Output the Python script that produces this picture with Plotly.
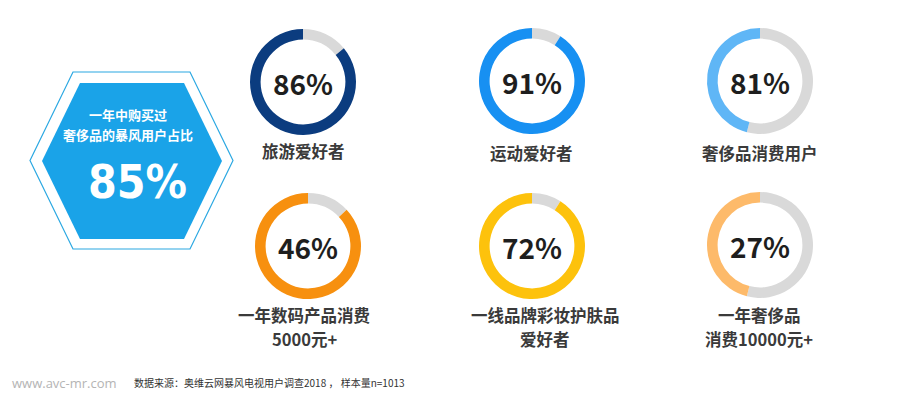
import plotly.graph_objects as go

W, H = 910, 398

# ---- data ----
categories = [["旅游爱好者"], ["运动爱好者"], ["奢侈品消费用户"],
              ["一年数码产品消费", "5000元+"], ["一线品牌彩妆护肤品", "爱好者"], ["一年奢侈品", "消费10000元+"]]
pct_labels = ["86%", "91%", "81%", "46%", "72%", "27%"]
arc_share = [86, 91, 46, 87, 91, 46]          # coloured arc share as drawn in the picture
ring_colors = ["#0B3C7F", "#1790F2", "#5FB6F6", "#F7900F", "#FDC20C", "#FDBA6A"]
headline_title = ["一年中购买过", "奢侈品的暴风用户占比"]
headline_value = "85%"
source_note = "数据来源：奥维云网暴风电视用户调查2018 ， 样本量n=1013"
site = "www.avc-mr.com"

# ---- layout helpers (pixel -> paper) ----
def px(x):
    return x / W

def py(y):
    return 1 - y / H

centers = [(303, 82), (532, 81), (760, 81), (308, 246), (532, 246), (760, 245)]
R = 53
label_pos = [(303, 151), (531, 153), (760, 153), (304, 315), (545, 315), (759, 315)]
LINE = 24

CJK = "Noto Sans CJK SC, Microsoft YaHei, sans-serif"

fig = go.Figure()

for i, v in enumerate(arc_share):
    cx, cy = centers[i]
    fig.add_trace(go.Pie(
        values=[100 - v, v],
        marker=dict(colors=["#D9D9D9", ring_colors[i]], line=dict(width=0)),
        hole=0.8,
        sort=False,
        direction="counterclockwise",
        rotation=0,
        textinfo="none",
        hoverinfo="skip",
        showlegend=False,
        domain=dict(x=[px(cx - R), px(cx + R)], y=[py(cy + R), py(cy - R)]),
    ))

annotations = []
for i, t in enumerate(pct_labels):
    cx, cy = centers[i]
    annotations.append(dict(
        x=px(cx), y=py(cy + 1), xref="paper", yref="paper", text=f"<b>{t}</b>",
        showarrow=False, xanchor="center", yanchor="middle",
        font=dict(family=CJK, size=28, color="#1E1E1E")))
for i, lines in enumerate(categories):
    lx, ly = label_pos[i]
    for j, t in enumerate(lines):
        annotations.append(dict(
            x=px(lx), y=py(ly + j * LINE), xref="paper", yref="paper", text=f"<b>{t}</b>",
            showarrow=False, xanchor="center", yanchor="middle", borderpad=0,
            font=dict(family=CJK, size=16.5, color="#3A3A3A")))

# hexagon badge
for j, t in enumerate(headline_title):
    annotations.append(dict(
        x=px(128), y=py(115 + j * 19), xref="paper", yref="paper", text=f"<b>{t}</b>",
        showarrow=False, xanchor="center", yanchor="middle", borderpad=0,
        font=dict(family=CJK, size=13, color="white")))
annotations.append(dict(
    x=px(137), y=py(182), xref="paper", yref="paper", text=f"<b>{headline_value}</b>",
    showarrow=False, xanchor="center", yanchor="middle",
    font=dict(family="Liberation Sans Narrow, DejaVu Sans Condensed, Arial Narrow, sans-serif",
              size=46, color="white")))

annotations.append(dict(
    x=px(10), y=py(383), xref="paper", yref="paper", text=site,
    showarrow=False, xanchor="left", yanchor="middle",
    font=dict(family="Open Sans, sans-serif", size=13, color="#B4B4B4")))
annotations.append(dict(
    x=px(132), y=py(382), xref="paper", yref="paper", text=source_note,
    showarrow=False, xanchor="left", yanchor="middle",
    font=dict(family=CJK, size=10, color="#333333")))


def hexpath(l, r, t, b, inset):
    midy = (t + b) / 2
    pts = [(l, midy), (l + inset, t), (r - inset, t), (r, midy), (r - inset, b), (l + inset, b)]
    return "M " + " L ".join(f"{px(x):.5f},{py(y):.5f}" for x, y in pts) + " Z"

shapes = [
    dict(type="path", xref="paper", yref="paper", path=hexpath(30, 233, 72, 249, 43),
         line=dict(color="#2BA8E2", width=1.2), fillcolor="white", layer="below"),
    dict(type="path", xref="paper", yref="paper", path=hexpath(42, 222, 83, 239, 38),
         line=dict(width=0), fillcolor="#1AA3E8", layer="below"),
]

fig.update_layout(
    width=W, height=H,
    margin=dict(l=0, r=0, t=0, b=0),
    paper_bgcolor="white", plot_bgcolor="white",
    annotations=annotations, shapes=shapes,
)

fig.write_html("out.html", config={"displayModeBar": False},
               post_script="document.body.style.margin='0';")
